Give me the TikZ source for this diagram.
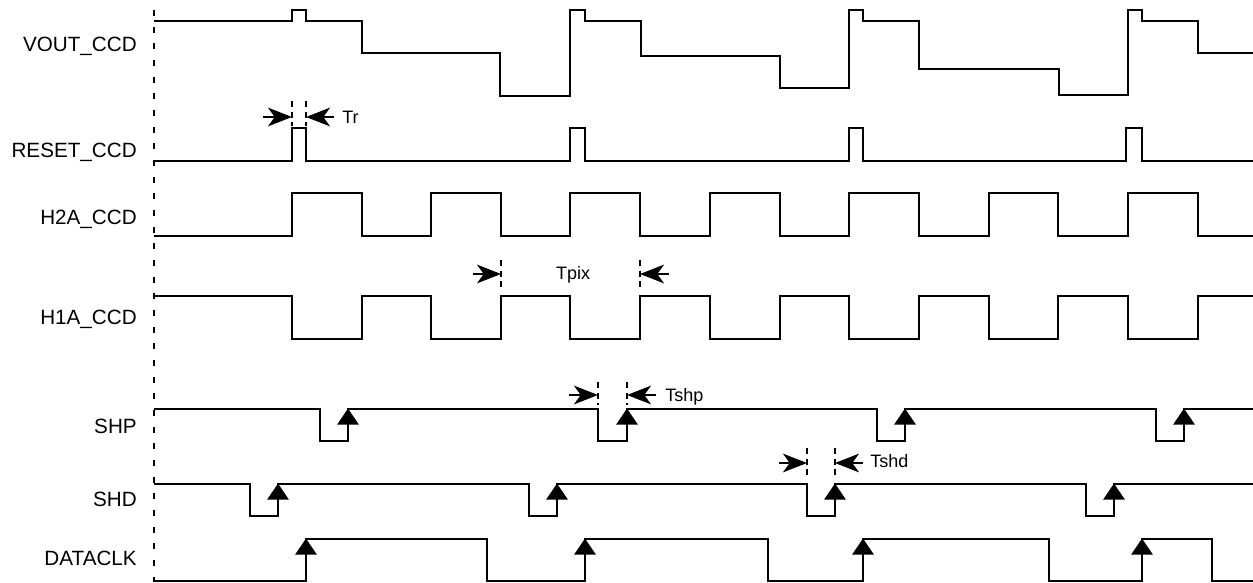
\documentclass[tikz,border=0pt]{standalone}
\usepackage{fontspec}
\setmainfont{Liberation Sans}
\usetikzlibrary{arrows.meta}
\begin{document}
\begin{tikzpicture}[x=0.75pt,y=-0.75pt,
  wave/.style={line width=1.1pt, line join=miter},
  sig/.style={font=\fontsize{15.5}{18}\selectfont, anchor=base east, inner sep=0pt},
  ann/.style={font=\fontsize{13.5}{15}\selectfont, inner sep=0pt},
  dimline/.style={line width=1.1pt, -{Stealth[length=18pt,width=14pt,inset=5pt]}},
  dimdash/.style={line width=0.9pt, dash pattern=on 4.5pt off 3.5pt},
  edge/.style={line width=1.1pt, -{Triangle[width=16pt,length=12pt]}},
  axis/.style={line width=1.3pt, dash pattern=on 4.5pt off 8pt}]
\useasboundingbox (0,0) rectangle (1253,582);

% time axis
\coordinate (axT) at (154,10);
\coordinate (axB) at (154,582);
\draw[axis] (axT) -- (axB);

% labels
\node[sig] (lvout) at (137,51) {VOUT\_CCD};
\node[sig] (lreset) at (137,157) {RESET\_CCD};
\node[sig] (lh2a) at (137,224.5) {H2A\_CCD};
\node[sig] (lh1a) at (137,324) {H1A\_CCD};
\node[sig] (lshp) at (137,433) {SHP};
\node[sig] (lshd) at (137,506.5) {SHD};
\node[sig] (ldclk) at (137,565) {DATACLK};

% VOUT_CCD
\draw[wave] (154,21) -| (292,10) -| (306,21) -| (362,53) -| (500,96) -| (570,10) -| (585,21)
  -| (641,56) -| (780,88) -| (849,10) -| (863,21) -| (919,69) -| (1059,95) -| (1128,10)
  -| (1142,21) -| (1198,53) -- (1253,53);

% RESET_CCD
\draw[wave] (154,161) -| (292,128) -| (306,161) -| (570,128) -| (585,161) -| (849,128)
  -| (863,161) -| (1126,128) -| (1142,161) -- (1253,161);

% H2A_CCD
\draw[wave] (154,236) -| (292,193) -| (362,236) -| (431,193) -| (501,236) -| (570,193)
  -| (640,236) -| (710,193) -| (780,236) -| (849,193) -| (919,236) -| (989,193)
  -| (1058,236) -| (1128,193) -| (1198,236) -- (1253,236);

% H1A_CCD
\draw[wave] (154,296) -| (292,339) -| (362,296) -| (431,339) -| (501,296) -| (570,339)
  -| (640,296) -| (710,339) -| (780,296) -| (849,339) -| (919,296) -| (989,339)
  -| (1058,296) -| (1128,339) -| (1198,296) -- (1253,296);

% SHP
\draw[wave] (154,409) -| (320,441) -| (348,409) -| (598,441) -| (627,409) -| (877,441)
  -| (905,409) -| (1156,441) -| (1184,409) -- (1253,409);
\foreach \x in {348,627,905,1184} \draw[edge] (\x,441) -- (\x,408.5);

% SHD
\draw[wave] (154,484) -| (250,516) -| (278,484) -| (529,516) -| (557,484) -| (807,516)
  -| (835,484) -| (1086,516) -| (1114,484) -- (1253,484);
\foreach \x in {278,557,835,1114} \draw[edge] (\x,516) -- (\x,483.5);

% DATACLK
\draw[wave] (154,581) -| (306,539) -| (487,581) -| (585,539) -| (768,581) -| (863,539)
  -| (1049,581) -| (1142,539) -| (1212,581) -- (1253,581);
\foreach \x in {306,585,863,1142} \draw[edge] (\x,581) -- (\x,538.5);

% Tr
\draw[dimdash] (292,101) -- (292,126);
\draw[dimdash] (306,101) -- (306,126);
\draw[dimline] (263,117) -- (292,117);
\draw[dimline] (334,117) -- (306,117);
\node[ann, anchor=base west] (tr) at (342,123) {Tr};

% Tpix
\draw[dimdash] (501,260) -- (501,288);
\draw[dimdash] (640,260) -- (640,288);
\draw[dimline] (473,274) -- (501,274);
\draw[dimline] (669,274) -- (640,274);
\node[ann, anchor=base] (tpix) at (573,279) {Tpix};

% Tshp
\draw[dimdash] (598,382) -- (598,405);
\draw[dimdash] (627,382) -- (627,405);
\draw[dimline] (569,395) -- (598,395);
\draw[dimline] (656,395) -- (627,395);
\node[ann, anchor=base west] (tshp) at (665,401) {Tshp};

% Tshd
\draw[dimdash] (807,448) -- (807,477);
\draw[dimdash] (835,448) -- (835,477);
\draw[dimline] (779,463) -- (807,463);
\draw[dimline] (863,463) -- (835,463);
\node[ann, anchor=base west] (tshd) at (870,467) {Tshd};
\end{tikzpicture}
\end{document}
